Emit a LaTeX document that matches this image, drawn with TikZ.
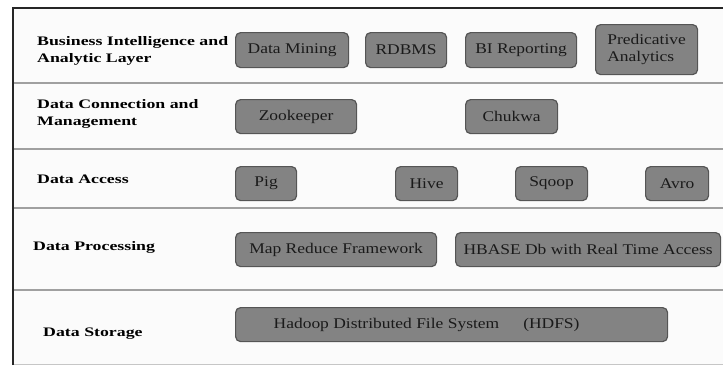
\documentclass[tikz,border=0pt]{standalone}
\usepackage{fontspec}
\newfontfamily\labfont{Liberation Serif}[FakeStretch=1.37]
\newfontfamily\boxfont{Liberation Serif}[FakeStretch=1.18]
\definecolor{boxfill}{HTML}{838383}
\definecolor{boxedge}{HTML}{555555}
\definecolor{boxtext}{HTML}{1A1A1A}
\definecolor{sepline}{HTML}{A0A0A0}
\definecolor{bg}{HTML}{FBFBFB}
\tikzset{
  layer/.style={font=\labfont\bfseries\fontsize{13}{17}\selectfont, align=left, anchor=west, inner sep=0pt, text=black},
  comp/.style={draw=boxedge, fill=boxfill, rounded corners=5pt, line width=1.2pt, inner sep=0pt,
    font=\boxfont\fontsize{14.8}{17}\selectfont, text=boxtext, anchor=north west},
  sep/.style={draw=sepline, line width=1.6pt},
  frame/.style={draw=black!85, line width=2.4pt}
}
\begin{document}
\begin{tikzpicture}[x=1pt,y=-1pt]
\useasboundingbox (0,0) rectangle (723,365);
\fill[white] (0,0) rectangle (723,365);
\fill[bg] (13,8) rectangle (723,365);
% separators
\draw[sep] (13,83) -- (723,83);
\draw[sep] (13,149) -- (723,149);
\draw[sep] (13,208) -- (723,208);
\draw[sep] (13,290) -- (723,290);
\draw[draw=sepline!60, line width=1pt] (13,364) -- (723,364);
% frame
\draw[frame] (13,365) -- (13,8) -- (723,8);
% layer labels
\node[layer] (l1) at (37,51) {Business Intelligence and\\Analytic Layer};
\node[layer] (l2) at (37,114) {Data Connection and\\Management};
\node[layer, anchor=base west] (l3) at (37,183) {Data Access};
\node[layer, anchor=base west] (l4) at (33,250) {Data Processing};
\node[layer, anchor=base west] (l5) at (43,336) {Data Storage};
% row 1
\node[comp, minimum width=113pt, minimum height=35pt] (dm) at (235,32) {Data Mining};
\node[comp, minimum width=81pt, minimum height=35pt] (rdbms) at (365,32) {RDBMS};
\node[comp, minimum width=111pt, minimum height=35pt] (bi) at (465,32) {BI Reporting};
\node[comp, minimum width=102pt, minimum height=50pt, align=left] (pa) at (595,24) {Predicative\\Analytics};
% row 2
\node[comp, minimum width=121pt, minimum height=34pt] (zk) at (235,99) {Zookeeper};
\node[comp, minimum width=92pt, minimum height=34pt] (ch) at (465,99) {Chukwa};
% row 3
\node[comp, minimum width=61pt, minimum height=34pt] (pig) at (235,166) {Pig};
\node[comp, minimum width=62pt, minimum height=34pt] (hive) at (395,166) {Hive};
\node[comp, minimum width=72pt, minimum height=34pt] (sqoop) at (515,166) {Sqoop};
\node[comp, minimum width=63pt, minimum height=34pt] (avro) at (645,166) {Avro};
% row 4
\node[comp, minimum width=201pt, minimum height=34pt] (mr) at (235,232) {Map Reduce Framework};
\node[comp, minimum width=265pt, minimum height=34pt] (hb) at (455,232) {HBASE Db with Real Time Access};
% row 5
\node[comp, minimum width=432pt, minimum height=34pt] (hdfs) at (235,307) {Hadoop Distributed File System\hspace*{24pt}(HDFS)\kern50pt\relax};
\end{tikzpicture}
\end{document}
